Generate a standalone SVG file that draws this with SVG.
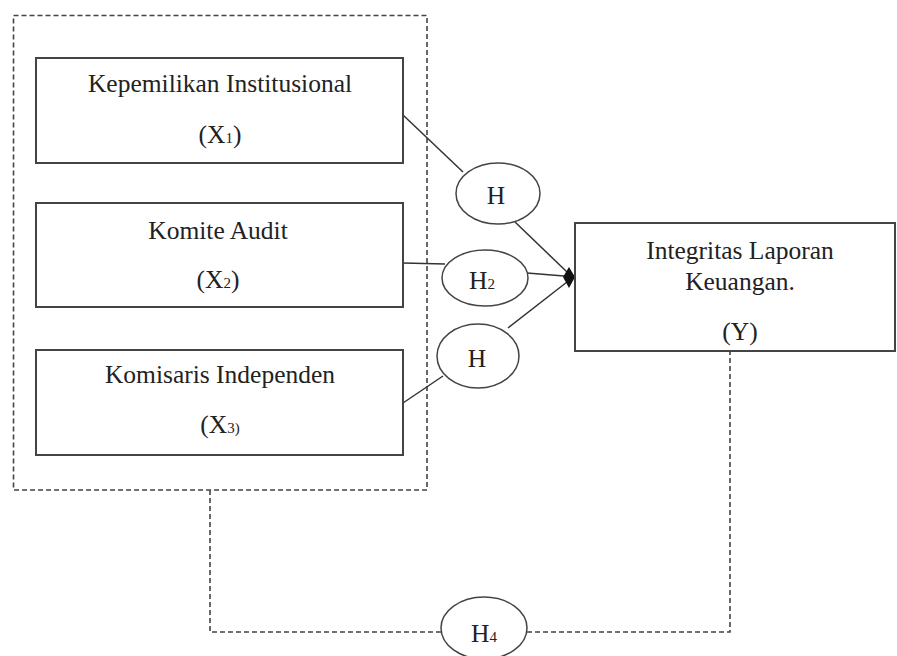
<svg xmlns="http://www.w3.org/2000/svg" width="897" height="656" viewBox="0 0 897 656">
<style>
.box{fill:#fff;stroke:#444;stroke-width:2}
.ell{fill:#fff;stroke:#444;stroke-width:1.5}
.ln{stroke:#333;stroke-width:1.5;fill:none}
.dash{stroke:#444;stroke-width:1.6;fill:none;stroke-dasharray:5 3}
text{font-family:"Liberation Serif","Times New Roman",serif;font-size:25.5px;fill:#222;text-anchor:middle}
.sub{font-size:15px}
</style>
<rect width="897" height="656" fill="#fff"/>
<g id="group-x">
<rect class="dash" x="13.5" y="15.5" width="413.5" height="474.5"/>
</g>
<g id="connectors">
<line class="ln" x1="403" y1="115" x2="463" y2="172"/>
<line class="ln" x1="515" y1="222" x2="567" y2="272"/>
<line class="ln" x1="403" y1="263" x2="445" y2="264"/>
<line class="ln" x1="527" y1="273" x2="564" y2="276"/>
<line class="ln" x1="403" y1="403" x2="443" y2="376"/>
<line class="ln" x1="508" y1="328" x2="567" y2="282"/>
<path class="dash" d="M210 490 V632 H441"/>
<path class="dash" d="M527 632 H730 V351"/>
<polygon points="563,277 569,267 575,277 569,288" fill="#111"/>
</g>
<g id="x1">
<rect class="box" x="36" y="58" width="367" height="105"/>
<text x="220" y="92">Kepemilikan Institusional</text>
<text x="220" y="143">(X<tspan class="sub">1</tspan>)</text>
</g>
<g id="x2">
<rect class="box" x="36" y="203" width="367" height="104"/>
<text x="218" y="239">Komite Audit</text>
<text x="218" y="288">(X<tspan class="sub">2</tspan>)</text>
</g>
<g id="x3">
<rect class="box" x="36" y="350" width="367" height="105"/>
<text x="220" y="383">Komisaris Independen</text>
<text x="220" y="433">(X<tspan class="sub">3)</tspan></text>
</g>
<g id="y">
<rect class="box" x="575" y="223" width="320" height="128"/>
<text x="740" y="259">Integritas Laporan</text>
<text x="740" y="290">Keuangan.</text>
<text x="740" y="340">(Y)</text>
</g>
<g id="h1">
<ellipse class="ell" cx="498" cy="193.5" rx="42" ry="30.5"/>
<text x="496" y="204">H</text>
</g>
<g id="h2">
<ellipse class="ell" cx="485" cy="278" rx="43" ry="28"/>
<text x="482" y="289">H<tspan class="sub">2</tspan></text>
</g>
<g id="h3">
<ellipse class="ell" cx="478" cy="356" rx="41" ry="32"/>
<text x="477" y="367">H</text>
</g>
<g id="h4">
<ellipse class="ell" cx="484" cy="628" rx="43" ry="31"/>
<text x="484" y="642">H<tspan class="sub">4</tspan></text>
</g>
</svg>
